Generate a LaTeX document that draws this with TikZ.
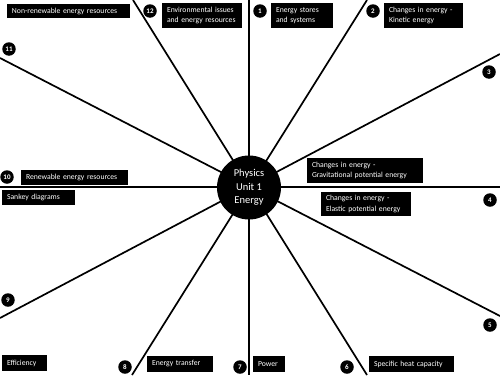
\documentclass[tikz,border=0pt]{standalone}
\usepackage{fontspec}
\setmainfont{Carlito}
\tikzset{
  spoke/.style={line width=1.7pt, black},
  hub/.style={circle, fill=black, minimum size=64pt, inner sep=0pt, text=white, align=center, font=\fontsize{10.5}{13.5}\selectfont},
  lbl/.style={fill=black, text=white, align=left, inner xsep=5pt, inner ysep=0pt, font=\fontsize{7.7}{10.5}\selectfont},
  num/.style={circle, fill=black, text=white, minimum size=13.5pt, inner sep=0pt, font=\fontsize{7}{7}\selectfont\bfseries},
}
\begin{document}
\begin{tikzpicture}[x=1pt,y=-1pt]
\useasboundingbox (0,0) rectangle (500,375);
% spoke ends
\coordinate (vt) at (249,0);   \coordinate (vb) at (249,375);
\coordinate (hl) at (0,187);   \coordinate (hr) at (500,187);
\coordinate (at) at (133,0);   \coordinate (ab) at (367,375);
\coordinate (bt) at (367,0);   \coordinate (bb) at (132,375);
\coordinate (cr) at (500,54);  \coordinate (cl) at (0,318);
\coordinate (dl) at (0,58);    \coordinate (dr) at (500,316);
\draw[spoke] (vt) -- (vb);
\draw[spoke] (hl) -- (hr);
\draw[spoke] (at) -- (ab);
\draw[spoke] (bt) -- (bb);
\draw[spoke] (cr) -- (cl);
\draw[spoke] (dl) -- (dr);
\node[hub] (hubnode) at (249,187.5) {Physics\\Unit 1\\Energy};
% labels
\node[lbl, text width=113pt, minimum height=14pt] (nonren) at (68.5,11) {\mbox{Non-renewable energy resources}};
\node[lbl, text width=70pt, minimum height=25pt] (env) at (202,15.5) {\mbox{Environmental issues}\\\mbox{and energy resources}};
\node[lbl, text width=52pt, minimum height=25pt] (stores) at (302,15.5) {\mbox{Energy stores}\\\mbox{and systems}};
\node[lbl, text width=69pt, minimum height=25pt] (kin) at (423.5,15.5) {\mbox{Changes in energy -}\\\mbox{Kinetic energy}};
\node[lbl, text width=97pt, minimum height=15pt] (renew) at (74.5,177.5) {\mbox{Renewable energy resources}};
\node[lbl, text width=63pt, minimum height=15pt] (sankey) at (38.5,197.5) {\mbox{Sankey diagrams}};
\node[lbl, text width=106pt, minimum height=25pt] (grav) at (365,170.5) {\mbox{Changes in energy -}\\\mbox{Gravitational potential energy}};
\node[lbl, text width=80pt, minimum height=24pt] (elastic) at (366,204) {\mbox{Changes in energy -}\\\mbox{Elastic potential energy}};
\node[lbl, text width=35pt, minimum height=16pt] (eff) at (24.5,363) {\mbox{Efficiency}};
\node[lbl, text width=56pt, minimum height=16pt] (transfer) at (180,364) {\mbox{Energy transfer}};
\node[lbl, text width=22pt, minimum height=16pt] (power) at (269,364) {\mbox{Power}};
\node[lbl, text width=75pt, minimum height=16pt] (shc) at (411.5,364) {\mbox{Specific heat capacity}};
% numbers
\node[num] (n1) at (260,11) {1};
\node[num] (n2) at (373,11) {2};
\node[num] (n3) at (489,72) {3};
\node[num] (n4) at (490,200) {4};
\node[num] (n5) at (490,325) {5};
\node[num] (n6) at (347,367) {6};
\node[num] (n7) at (240,367) {7};
\node[num] (n8) at (125,367) {8};
\node[num] (n9) at (8,300) {9};
\node[num] (n10) at (7,177) {10};
\node[num] (n11) at (9,49) {11};
\node[num] (n12) at (150,11) {12};
\end{tikzpicture}
\end{document}
